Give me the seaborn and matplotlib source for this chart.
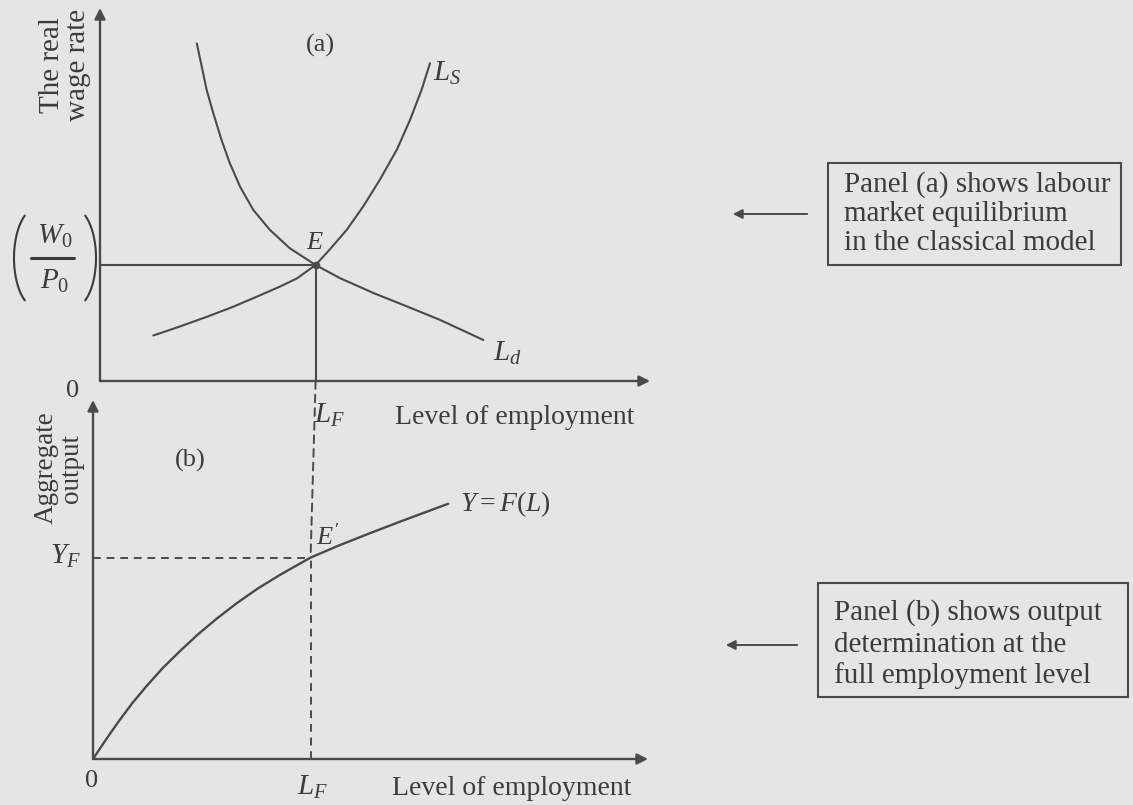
import matplotlib
matplotlib.use("Agg")
import matplotlib.pyplot as plt
from matplotlib.patches import Rectangle, ConnectionPatch, FancyArrowPatch
from matplotlib.lines import Line2D
import seaborn as sns
import pandas as pd
import numpy as np

# Labour demand curve L_d (employment, real wage)
ld_emp = [17.6, 18.5, 19.4, 20.6, 22.1, 23.6, 25.5, 27.9, 30.9, 34.5, 39.2,
          43.6, 49.7, 55.8, 61.8, 69.7]
ld_wage = [90.5, 84.3, 78.0, 71.8, 64.6, 58.4, 52.0, 45.8, 40.5, 35.6, 31.1,
           27.6, 23.6, 20.0, 16.4, 11.0]

# Labour supply curve L_S (employment, real wage)
ls_emp = [9.7, 14.5, 19.4, 24.2, 28.5, 32.7, 35.8, 39.2, 41.8, 44.9, 47.9,
          50.9, 54.0, 56.4, 58.5, 60.0]
ls_wage = [12.2, 14.6, 17.2, 19.9, 22.6, 25.3, 27.5, 31.1, 35.3, 40.6, 46.9,
           54.0, 62.1, 70.1, 78.2, 85.2]

# Production function Y = F(L)
pf_emp = [0.0, 2.2, 4.5, 7.0, 9.7, 12.6, 15.7, 18.9, 22.3, 25.9, 29.7, 33.7,
          39.2, 44.5, 49.9, 55.3, 64.0]
pf_out = [0.0, 5.1, 10.2, 15.4, 20.4, 25.4, 30.1, 34.7, 39.1, 43.4, 47.5,
          51.3, 56.1, 59.6, 62.9, 66.1, 71.1]

# Equilibrium values
L_F = 39.2
REAL_WAGE = 31.1
Y_F = 56.1

box_a_lines = ["Panel (a) shows labour", "market equilibrium", "in the classical model"]
box_b_lines = ["Panel (b) shows output", "determination at the", "full employment level"]

sns.set_theme(style="white")
plt.rcParams["font.family"] = ["Liberation Serif", "DejaVu Serif"]
plt.rcParams["mathtext.fontset"] = "custom"
plt.rcParams["mathtext.rm"] = "Liberation Serif"
plt.rcParams["mathtext.it"] = "Liberation Serif:italic"

BG = "#e5e5e3"
INK = "#3c3c3c"
LINE = "#4a4a4a"
W, H = 1133, 805


def fx(px):
    return px / W


def fy(py):
    return 1 - py / H


fig = plt.figure(figsize=(W / 100, H / 100), dpi=100, facecolor=BG)

# Panel (a): labour market
ax_a = fig.add_axes([fx(100), fy(381), (650 - 100) / W, (381 - 8) / H])
# Panel (b): production function
ax_b = fig.add_axes([fx(93), fy(759), (648 - 93) / W, (759 - 400) / H])

for ax in (ax_a, ax_b):
    ax.set_xlim(0, 100)
    ax.set_ylim(0, 100)
    ax.set_facecolor("none")
    ax.axis("off")
    arrow = dict(arrowstyle="-|>", lw=1.7, color=LINE, mutation_scale=16,
                 shrinkA=0, shrinkB=0)
    ax.annotate("", xy=(0, 100), xytext=(0, 0), arrowprops=arrow,
                annotation_clip=False)
    ax.annotate("", xy=(100, 0), xytext=(0, 0), arrowprops=arrow,
                annotation_clip=False)

ld = pd.DataFrame({"emp": ld_emp, "wage": ld_wage})
ls = pd.DataFrame({"emp": ls_emp, "wage": ls_wage})
pf = pd.DataFrame({"emp": pf_emp, "out": pf_out})

sns.lineplot(data=ld, x="emp", y="wage", ax=ax_a, color=LINE, lw=1.5,
             sort=False, estimator=None)
sns.lineplot(data=ls, x="emp", y="wage", ax=ax_a, color=LINE, lw=1.5,
             sort=False, estimator=None)
sns.lineplot(data=pf, x="emp", y="out", ax=ax_b, color=LINE, lw=1.7,
             sort=False, estimator=None)

# Equilibrium guides in panel (a)
ax_a.plot([0, L_F], [REAL_WAGE, REAL_WAGE], color=LINE, lw=1.5)
ax_a.plot([L_F, L_F], [0, REAL_WAGE], color=LINE, lw=1.5)
ax_a.plot([L_F], [REAL_WAGE], marker="o", ms=4.5, color=LINE)

# Dashed guides in panel (b) and between the panels
ax_b.plot([0, L_F], [Y_F, Y_F], color=LINE, lw=1.4, ls=(0, (4, 3)))
ax_b.plot([L_F, L_F], [0, Y_F], color=LINE, lw=1.4, ls=(0, (4, 3)))
con = ConnectionPatch(xyA=(L_F, 0), coordsA=ax_a.transData,
                      xyB=(L_F, Y_F), coordsB=ax_b.transData,
                      color=LINE, lw=1.4, ls=(0, (4, 3)))
fig.add_artist(con)

TXT = dict(color=INK, ha="center", va="center")

# Panel (a) labels
fig.text(fx(65), fy(65), "The real\nwage rate", rotation=90, fontsize=21,
         linespacing=1.0, **TXT)
fig.text(fx(320), fy(45), "(a)", fontsize=19, **TXT)
fig.text(fx(447), fy(73), r"$L_S$", fontsize=21, **TXT)
fig.text(fx(507), fy(353), r"$L_d$", fontsize=21, **TXT)
fig.text(fx(315), fy(243), r"$E$", fontsize=19, **TXT)
fig.text(fx(73), fy(391), "0", fontsize=19, **TXT)
fig.text(fx(330), fy(415), r"$L_F$", fontsize=21, **TXT)
fig.text(fx(515), fy(417), "Level of employment", fontsize=20, **TXT)

# Real wage W0/P0 in tall round brackets
fig.text(fx(55), fy(236), r"$W_0$", fontsize=21, **TXT)
fig.text(fx(55), fy(281), r"$P_0$", fontsize=21, **TXT)
fig.add_artist(Line2D([fx(31), fx(74)], [fy(258), fy(258)], color=INK, lw=2.2))
for cx, t1, t2 in ((37, 122, 238), (73, -58, 58)):
    t = np.radians(np.linspace(t1, t2, 40))
    px = cx + 23 * np.cos(t)
    py = 258 - 50 * np.sin(t)
    fig.add_artist(Line2D(fx(px), fy(py), color=INK, lw=1.5))

# Panel (b) labels
fig.text(fx(59), fy(468), "Aggregate\noutput", rotation=90, fontsize=19.5,
         linespacing=1.0, **TXT)
fig.text(fx(190), fy(460), "(b)", fontsize=19, **TXT)
fig.text(fx(65), fy(556), r"$Y_F$", fontsize=21, **TXT)
fig.text(fx(328), fy(537), r"$E'$", fontsize=19, **TXT)
fig.text(fx(460), fy(504), r"$Y = F(L)$", fontsize=20, color=INK,
         ha="left", va="center")
fig.text(fx(92), fy(781), "0", fontsize=19, **TXT)
fig.text(fx(313), fy(787), r"$L_F$", fontsize=21, **TXT)
fig.text(fx(512), fy(788), "Level of employment", fontsize=20, **TXT)


# Annotation boxes with pointer arrows
def note_box(x0, y0, x1, y1, lines, line_y, ax_from, ax_to, ay):
    fig.add_artist(Rectangle((fx(x0), fy(y1)), fx(x1) - fx(x0),
                             fy(y0) - fy(y1), transform=fig.transFigure,
                             fill=False, ec=LINE, lw=1.5))
    for txt, py in zip(lines, line_y):
        fig.text(fx(x0 + 16), fy(py), txt, fontsize=21, color=INK,
                 ha="left", va="center")
    fig.add_artist(FancyArrowPatch(
        (fx(ax_from), fy(ay)), (fx(ax_to), fy(ay)),
        transform=fig.transFigure, arrowstyle="-|>", mutation_scale=14,
        lw=1.4, color=LINE))


note_box(828, 163, 1121, 265, box_a_lines, [185, 214, 243], 810, 730, 214)
note_box(818, 583, 1128, 697, box_b_lines, [613, 645, 676], 800, 723, 645)

fig.savefig("out.png", dpi=100, facecolor=BG)
